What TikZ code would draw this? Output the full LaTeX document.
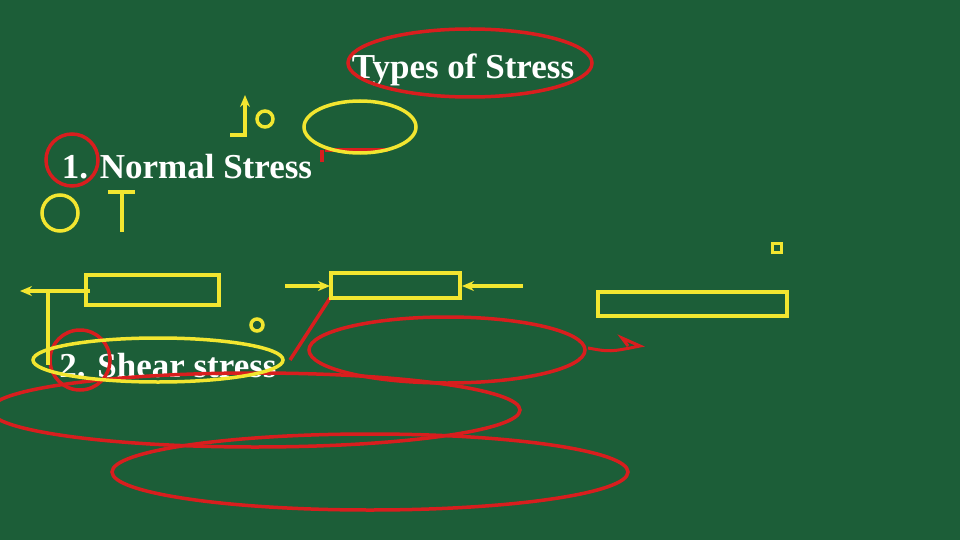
\documentclass[tikz,border=0pt]{standalone}
\usetikzlibrary{arrows.meta}
\usepackage{fontspec}
\setmainfont{Liberation Serif}
\definecolor{bg}{HTML}{1C5E38}
\definecolor{yl}{HTML}{F2E630}
\definecolor{rd}{HTML}{D81E1E}
\begin{document}
\begin{tikzpicture}[x=1pt,y=-1pt,
 yel/.style={draw=yl,line width=3.5pt},
 red/.style={draw=rd,line width=3.5pt},
 arr/.style={-{Stealth[length=12pt,width=10pt]}},
 lab/.style={text=white,font=\bfseries\fontsize{35}{37}\selectfont}]
\fill[bg] (0,0) rectangle (960,540);
\useasboundingbox (0,0) rectangle (960,540);
\node[lab] (title) at (463,70) {Types of Stress};
\node[lab] (normal) at (187,167) {1. Normal Stress};
\node[lab] (shear) at (168,366) {2. Shear stress};
% red marks
\draw[red] (470,63) ellipse [x radius=122,y radius=34];
\draw[red] (72,160) circle (26);
\draw[red] (325,150) -- (388,150);
\draw[red] (322,150) -- (322,162);
\draw[red] (330,298) -- (290,360);
\draw[red] (447,350) ellipse [x radius=138,y radius=33];
\draw[red] (80,360) circle (30);
\draw[red] (255,410) ellipse [x radius=265,y radius=37];
\draw[red] (370,472) ellipse [x radius=258,y radius=38];
\draw[red,line width=3pt] (588,348) .. controls (610,352) .. (640,346) -- (622,338) -- (628,346);
% yellow marks
\draw[yel,arr] (230,135) -- (245,135) -- (245,95);
\draw[yel] (265,119) circle (8);
\draw[yel] (360,127) ellipse [x radius=56,y radius=26];
\draw[yel] (60,213) circle (18);
\draw[yel] (108,192) -- (135,192) (122,192) -- (122,232);
\draw[yel,line width=3pt] (772,243) rectangle (781,252);
\draw[yel,arr] (90,291) -- (20,291);
\draw[yel] (48,291) -- (48,365);
\draw[yel] (86,275) rectangle (219,305);
\draw[yel] (257,325) circle (6);
\draw[yel,arr] (285,286) -- (330,286);
\draw[yel] (331,273) rectangle (460,298);
\draw[yel,arr] (523,286) -- (462,286);
\draw[yel] (598,292) rectangle (787,316);
\draw[yel] (158,360) ellipse [x radius=125,y radius=22];
\end{tikzpicture}
\end{document}
